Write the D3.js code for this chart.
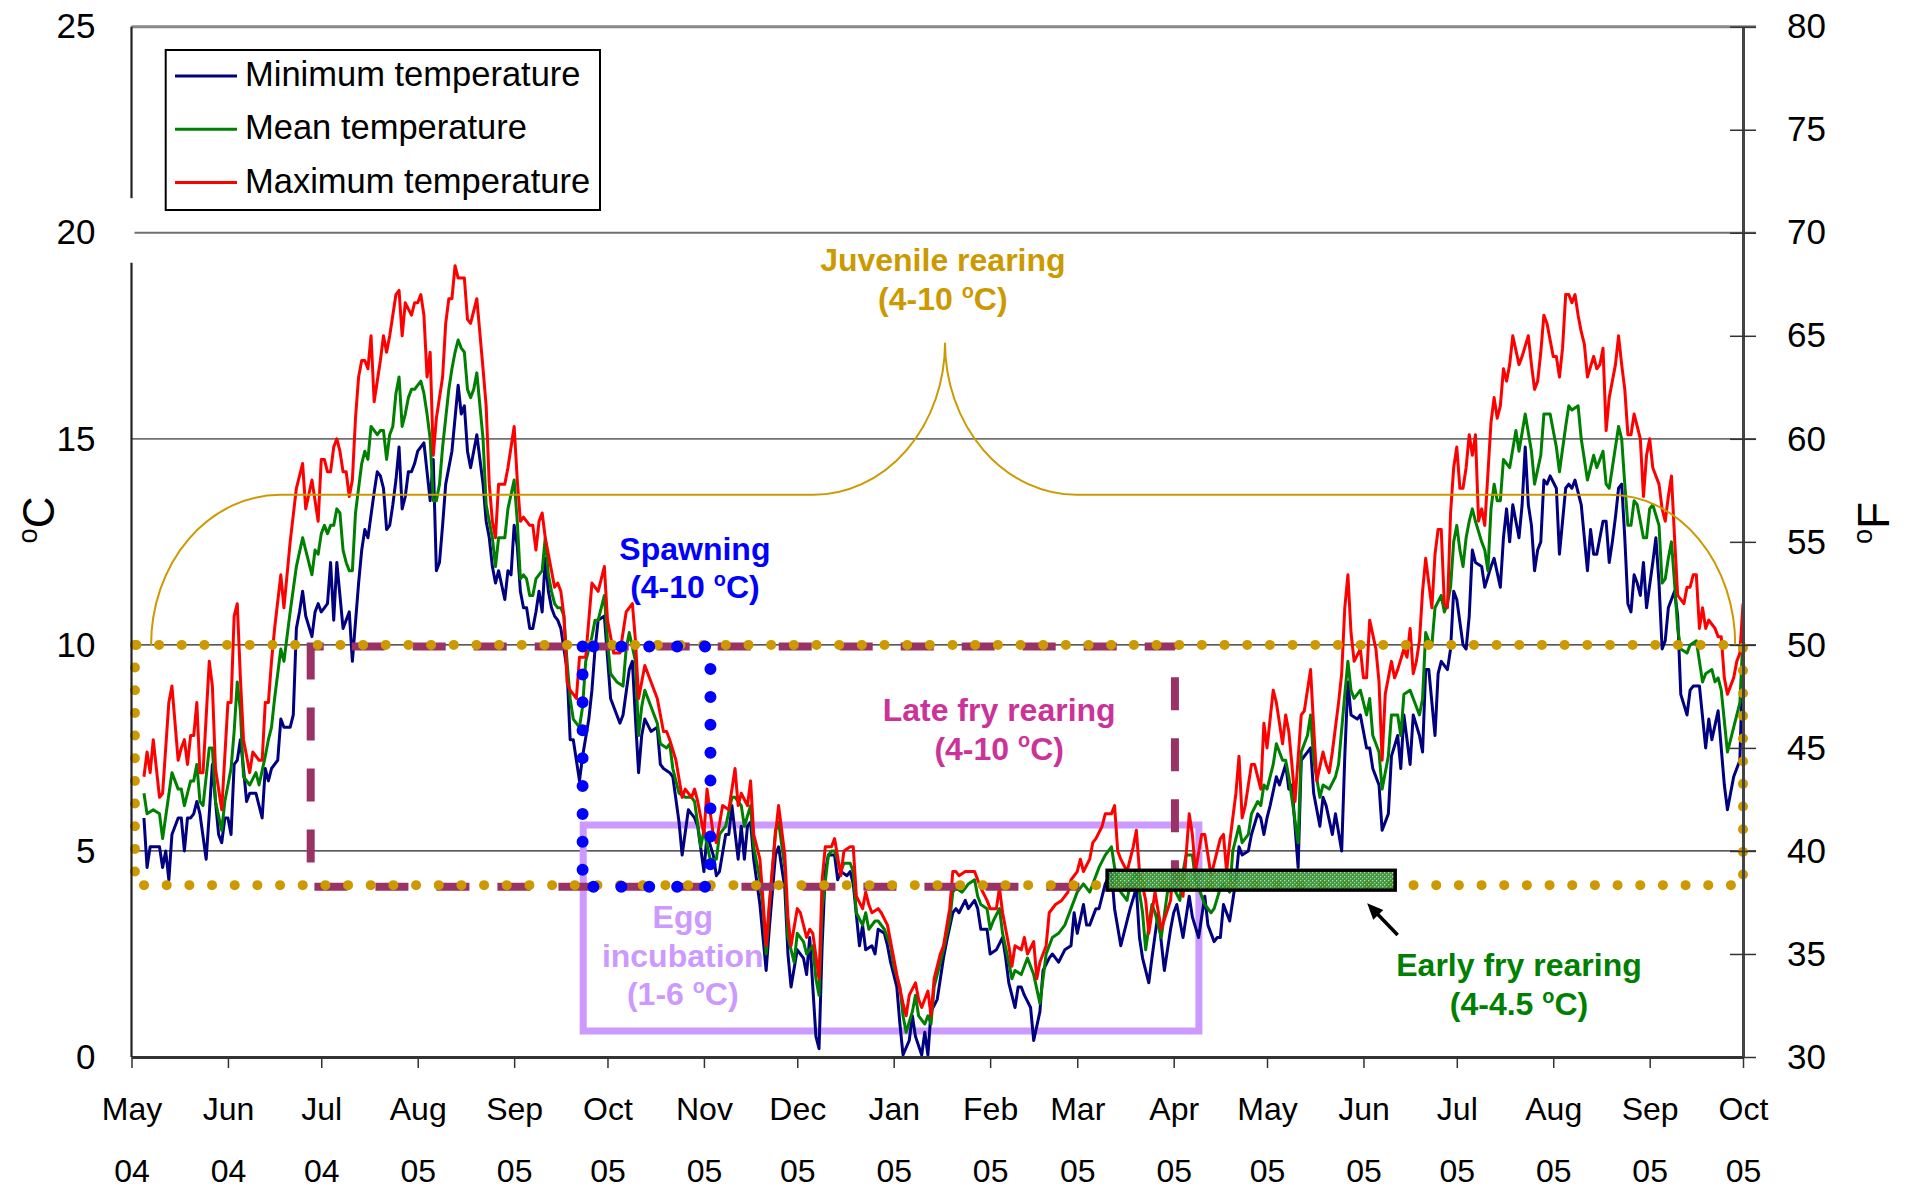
<!DOCTYPE html>
<html>
<head>
<meta charset="utf-8">
<script src="https://cdn.jsdelivr.net/npm/d3@7"></script>
<style>
  body { margin: 0; background: #fff; }
  text { font-family: "Liberation Sans", Arial, sans-serif; }
</style>
</head>
<body>
<script>
var width = 1910, height = 1188;
var plot = { left: 131.5, right: 1743, top: 26.7, bottom: 1057 };

// daily temperatures, days counted from 1 May 2004
var startDate = new Date(2004, 4, 1);
var endDate = new Date(2005, 9, 1);

var maxDays = [4,5,6,7,9,10,12,13,15,16,17,18,19,20,21,22,23,25,26,27,29,31,32,33,34,35,36,38,39,41,42,43,44,45,46,48,49,51,53,55,56,58,60,61,62,63,64,65,66,67,68,69,70,71,72,73,74,75,76,77,78,80,81,82,83,85,86,87,88,90,91,92,93,94,95,96,97,98,100,101,102,103,104,105,106,107,108,109,111,113,114,115,116,117,118,120,121,123,124,125,126,128,129,130,131,132,133,134,136,137,138,139,140,141,143,144,146,148,150,152,153,155,157,159,161,162,163,164,165,168,169,171,172,173,175,177,178,180,181,182,184,185,187,188,190,192,194,195,196,198,199,200,202,203,204,205,207,208,210,211,212,214,215,217,218,219,221,222,223,225,226,228,229,231,232,233,235,236,237,238,240,241,243,244,246,248,249,250,252,253,254,256,257,258,260,261,263,264,265,266,268,269,271,272,273,275,276,278,279,280,282,283,284,286,287,288,290,291,292,294,295,297,299,301,302,304,305,306,308,309,310,312,313,315,316,317,318,320,322,323,324,326,327,329,331,334,335,336,338,340,341,342,344,345,347,348,350,351,352,353,355,356,357,358,360,361,363,364,365,367,368,370,371,372,373,374,376,377,379,380,381,383,384,385,386,388,389,390,391,392,393,395,396,397,398,400,401,402,403,405,406,407,409,410,411,412,413,414,415,416,418,419,420,421,422,423,424,425,426,427,428,429,430,431,432,433,434,435,437,438,439,440,441,442,443,444,446,447,449,450,451,452,453,454,455,457,458,459,460,461,462,463,464,465,466,467,468,470,471,472,473,474,475,476,477,478,479,480,481,482,483,484,485,486,487,488,489,490,491,492,493,494,495,496,497,499,500,501,502,503,504,505,506,507,508,509,510,511,512,513,515,516,517,518];
var maxTemps = [6.8,7.4,6.9,7.7,6.3,6.4,8.6,9.0,7.2,7.5,7.7,7.1,7.8,7.8,8.6,6.9,6.9,9.6,9.0,7.0,6.0,8.6,8.6,10.7,11.0,9.2,7.7,6.9,7.4,7.2,7.2,8.6,8.6,9.6,10.4,11.7,10.9,12.5,13.8,14.4,13.3,14.0,13.0,14.5,14.5,14.2,14.2,14.8,15.0,14.7,14.2,14.2,13.6,14.0,15.5,16.5,16.9,16.9,16.7,17.5,15.9,16.9,17.5,17.1,17.5,18.5,18.6,17.5,18.3,18.0,18.3,18.3,18.5,18.0,16.5,17.1,14.6,15.5,16.5,17.8,18.4,18.4,19.2,18.9,18.9,18.9,17.9,17.8,18.4,16.7,15.8,13.9,13.0,12.6,13.9,13.9,14.3,15.3,14.0,13.0,13.1,12.9,12.9,12.3,13.0,13.2,12.6,12.2,11.4,11.5,11.3,10.7,9.1,8.9,8.7,9.7,9.7,11.5,11.3,11.9,10.6,9.8,9.8,10.8,11.0,10.1,8.7,9.1,9.5,8.9,8.7,7.9,7.9,7.7,7.2,6.3,6.5,6.3,6.5,6.2,5.4,6.5,5.4,5.2,6.1,6.0,7.0,6.1,6.4,6.1,6.7,5.4,4.8,3.8,2.7,3.7,5.4,6.1,4.9,3.4,2.7,3.6,3.5,2.9,3.1,3.0,1.9,4.3,5.1,5.1,5.3,4.4,5.0,5.1,5.1,3.9,3.6,4.0,3.7,3.5,3.6,3.5,3.2,2.8,2.0,1.3,1.0,1.5,1.8,1.4,1.2,1.6,1.0,1.9,2.5,2.7,3.6,4.5,4.5,4.4,4.5,4.5,4.5,4.3,4.1,3.8,3.6,3.6,4.1,3.5,2.7,2.2,2.7,2.6,2.9,2.5,2.8,1.9,2.3,2.7,3.5,3.7,3.8,4.0,4.3,4.5,4.8,4.5,4.8,5.2,5.3,5.6,5.9,5.9,6.1,5.0,4.8,4.5,5.1,5.5,4.5,3.8,3.0,4.0,3.1,3.8,4.7,4.7,3.9,5.9,5.4,4.5,5.4,5.4,4.4,4.7,5.3,5.4,4.5,5.2,6.4,7.3,5.8,6.1,7.1,7.1,6.5,8.1,7.5,8.9,8.6,7.6,8.3,7.9,7.1,6.2,8.3,8.4,9.4,8.0,6.7,7.4,7.1,6.9,7.4,8.6,9.3,10.9,11.7,10.3,9.6,9.9,9.2,9.2,10.6,9.9,9.1,7.2,8.8,9.6,9.2,9.4,9.9,9.7,10.4,9.3,9.6,10.1,11.3,12.1,10.9,12.2,12.8,12.8,11.0,10.9,13.2,14.3,14.8,13.8,13.8,14.3,15.1,14.6,15.1,13.0,13.3,12.9,15.4,16.0,15.5,15.8,16.7,16.4,16.8,17.5,16.8,17.0,17.5,16.8,16.2,16.4,17.1,18.0,17.8,17.0,17.0,16.5,17.2,18.5,18.5,18.3,18.5,18.0,17.6,17.3,16.5,17.0,16.7,16.8,17.2,15.2,16.0,16.4,16.8,17.5,16.8,16.2,15.1,15.1,15.6,15.3,15.0,13.6,14.6,15.0,14.3,14.1,13.9,13.3,13.0,13.6,14.1,12.6,11.2,11.0,11.4,11.4,11.7,11.7,10.4,10.9,10.4,10.6,10.5,10.4,10.2,10.2,9.2,8.8,9.2,9.6,9.8,11.0];

var meanDays = [4,5,7,9,10,13,15,16,17,18,19,20,21,22,23,25,26,27,29,30,32,33,34,35,36,38,40,41,43,44,45,46,48,49,51,53,55,56,58,59,60,61,62,63,64,65,66,67,68,69,70,71,72,74,75,76,77,79,80,81,82,83,84,85,86,87,88,89,90,91,93,94,95,96,97,98,99,100,102,103,104,105,106,107,108,109,110,111,113,114,115,116,117,118,120,121,123,124,125,126,127,128,129,130,132,133,134,135,136,137,138,139,140,141,142,144,145,146,148,149,150,152,153,154,156,158,159,160,162,163,164,165,167,169,170,172,173,174,176,178,180,181,183,184,186,188,189,191,193,194,196,197,199,200,202,203,204,205,207,208,210,211,213,214,216,217,219,220,221,222,224,225,226,228,229,231,232,233,235,236,237,239,240,242,244,245,247,248,249,251,252,253,255,256,257,258,260,261,263,264,265,267,268,269,271,272,273,275,276,277,279,280,282,283,284,286,287,288,290,292,293,294,296,298,300,302,303,304,306,308,309,311,313,315,316,318,320,321,323,325,326,328,329,331,333,335,337,338,339,341,342,344,345,347,348,350,351,353,354,356,357,359,360,362,363,364,365,367,368,370,371,372,375,376,378,379,380,382,383,385,387,388,390,391,392,393,395,397,398,399,401,402,404,405,407,408,409,411,412,414,415,416,417,418,419,421,422,423,424,425,426,427,428,429,430,431,432,434,435,436,437,438,439,440,441,442,443,445,446,448,450,451,453,454,455,456,458,459,461,462,463,465,466,468,469,470,471,473,474,475,476,477,478,479,480,481,482,483,484,486,487,488,489,491,492,493,494,495,496,497,498,500,501,503,504,505,506,508,509,510,511,513,515,517,518];
var meanTemps = [6.4,5.9,6.0,5.9,5.3,6.9,6.5,6.5,6.1,6.4,6.7,6.7,7.1,6.2,6.1,7.5,7.5,6.2,5.5,6.2,7.0,7.9,9.1,8.4,6.8,6.6,6.9,6.6,7.3,7.7,8.0,8.7,9.9,9.6,10.8,11.9,12.6,12.3,11.7,12.3,12.2,12.7,12.9,12.7,12.9,12.9,13.3,13.2,12.3,12.0,11.8,11.8,13.2,14.4,14.7,14.5,15.3,15.1,15.2,15.2,14.5,15.1,15.3,16.1,16.5,15.3,15.6,16.0,16.2,16.2,16.4,16.1,15.6,15.0,13.5,13.5,13.9,14.8,16.2,16.7,17.1,17.4,17.2,17.1,16.2,16.0,16.2,16.6,15.0,13.4,13.0,12.6,11.9,12.6,12.6,13.3,14.0,13.0,11.6,11.7,11.6,11.2,11.2,11.6,11.8,12.6,11.7,11.3,11.0,10.9,10.9,10.7,9.6,8.7,8.2,8.0,8.5,9.6,10.2,10.6,10.6,11.2,10.1,9.3,9.1,9.0,9.9,10.3,9.6,7.8,8.5,8.9,8.5,8.1,7.6,7.5,7.6,7.0,6.4,6.3,6.3,6.2,5.1,5.5,4.8,4.8,5.4,5.6,6.3,6.3,6.1,5.6,6.1,5.1,4.3,3.6,2.5,3.6,5.5,5.7,4.6,2.9,2.3,3.0,2.8,2.5,2.7,1.9,1.5,3.6,4.9,5.0,5.0,4.5,4.7,4.7,4.5,3.5,3.2,3.5,3.1,3.3,3.3,3.1,2.7,2.2,1.7,1.0,0.6,1.1,1.5,1.0,0.8,1.0,0.8,1.7,2.3,2.6,3.3,4.0,4.1,4.0,4.1,4.2,4.3,3.9,3.7,3.6,3.1,3.3,3.6,3.0,2.3,1.9,2.1,2.0,2.2,2.4,2.0,1.3,1.9,2.5,2.9,3.0,3.2,3.6,3.8,4.0,4.2,4.0,4.2,4.6,4.9,5.1,4.6,4.0,3.8,4.2,4.5,3.5,2.6,3.7,3.5,2.9,4.0,4.1,3.8,4.5,4.9,4.9,4.3,3.9,3.7,3.5,3.6,4.1,4.2,4.0,5.0,5.6,5.2,5.4,5.9,6.2,6.1,6.6,6.5,7.1,7.6,7.2,7.2,6.8,5.2,7.4,7.8,8.3,7.2,6.3,6.6,6.5,6.8,7.1,8.8,9.6,8.9,8.7,8.9,8.3,8.7,7.8,7.4,6.5,7.3,8.3,8.3,7.8,8.8,8.9,8.7,8.3,8.7,10.3,10.1,10.0,10.9,11.2,10.8,11.0,11.4,12.5,12.9,12.3,11.9,12.6,13.0,13.3,13.0,12.5,12.3,11.8,13.3,13.9,13.5,13.5,14.5,14.4,14.3,15.2,14.7,15.6,14.7,13.9,14.6,15.6,15.6,15.6,14.8,14.2,15.3,15.8,15.7,15.8,15.0,14.0,14.3,14.6,14.3,14.7,13.9,13.8,14.3,14.8,15.3,15.0,13.9,12.9,12.9,13.5,13.4,12.6,12.6,13.3,13.4,12.9,11.5,11.6,12.1,12.5,11.5,10.4,9.9,9.8,10.0,10.1,9.6,9.1,9.3,9.4,9.1,9.2,8.9,7.4,8.0,8.6,10.2];

var minDays = [4,5,6,9,10,11,12,13,15,16,17,18,19,20,21,22,24,25,26,27,28,29,30,31,32,33,34,35,36,37,38,39,40,41,42,43,44,45,47,48,49,51,52,53,54,55,56,58,59,60,61,62,63,64,65,66,67,68,69,70,71,73,74,75,76,78,79,80,81,82,83,84,85,86,87,88,89,90,91,92,94,95,96,97,98,99,100,101,103,104,105,106,107,108,109,110,111,113,114,115,116,117,118,120,121,122,123,124,125,126,127,128,129,130,131,132,133,134,135,136,137,138,140,141,142,144,145,147,148,149,150,152,153,154,156,157,158,160,161,162,163,164,165,167,169,170,171,173,174,176,177,179,180,181,182,184,185,187,188,189,191,192,193,195,196,197,198,199,200,202,203,204,205,207,208,210,211,212,214,216,217,218,220,221,222,223,224,226,227,228,230,231,232,234,235,236,238,239,240,242,243,244,246,247,248,250,251,252,254,255,256,257,259,260,261,262,264,265,266,268,269,271,272,273,275,276,278,280,281,282,284,285,286,287,289,290,292,293,295,296,298,300,302,303,304,306,307,308,310,311,313,315,316,318,320,321,323,324,325,327,328,330,332,334,335,336,338,340,341,343,345,346,348,349,350,351,353,355,356,357,359,360,362,363,364,365,366,368,369,371,372,373,375,376,378,379,380,382,383,384,386,387,389,390,391,392,394,395,397,398,399,401,402,404,405,407,408,409,411,412,414,415,416,417,419,420,421,423,424,425,426,428,429,430,431,432,434,435,437,438,440,441,442,443,444,446,447,448,449,450,451,452,453,454,455,456,458,459,460,461,462,463,464,466,467,468,469,470,471,473,474,475,476,477,478,479,480,481,482,483,484,485,486,487,489,490,491,492,493,494,496,497,498,500,501,502,504,506,507,508,510,512,513,515,517,518];
var minTemps = [5.8,4.6,5.1,5.1,4.6,5.0,4.3,5.4,5.8,5.8,5.0,5.8,5.8,5.9,6.2,5.9,4.8,5.9,7.1,6.2,5.4,5.2,5.8,5.8,5.4,7.1,7.2,7.7,7.0,6.2,6.4,6.4,6.4,6.1,5.8,7.0,6.7,7.0,7.2,8.2,8.0,8.0,8.3,10.4,10.8,11.3,10.7,10.2,10.8,11.0,10.8,10.9,11.0,12.0,10.6,12.0,11.2,10.4,10.6,10.8,9.6,11.5,12.3,12.8,12.6,13.7,14.2,14.1,13.8,12.8,12.9,13.4,14.0,14.8,13.3,13.6,14.2,14.2,14.4,14.7,14.9,14.2,13.5,14.5,11.8,12.0,12.9,13.9,14.7,15.5,16.3,15.6,15.8,14.7,14.3,14.7,15.1,13.9,13.0,12.6,11.9,11.5,11.8,11.1,11.8,11.7,12.9,12.4,11.3,10.9,10.9,10.4,10.4,10.8,11.3,10.8,12.1,11.3,10.9,10.7,10.6,10.4,9.4,7.7,7.7,6.7,7.3,8.2,8.9,9.9,10.6,10.7,9.7,8.7,8.3,8.1,8.3,9.4,9.6,8.2,6.9,7.8,8.2,7.9,8.0,7.1,7.0,6.9,6.8,5.7,4.9,6.0,5.9,5.8,5.6,4.5,5.4,4.9,4.4,4.5,5.4,5.4,6.1,4.8,5.6,4.8,5.6,5.7,4.8,3.7,2.9,2.1,3.1,4.9,5.1,4.1,2.5,1.7,2.6,2.4,2.0,2.9,0.5,0.2,2.7,4.5,4.9,4.9,4.3,4.5,4.4,4.5,4.2,2.7,3.2,2.6,2.7,2.5,3.1,3.0,2.7,2.3,1.7,0.8,0.05,0.4,1.0,0.5,0.05,0.6,0.05,1.1,1.4,1.9,2.4,2.8,3.5,3.6,3.5,3.8,3.6,3.8,3.6,3.1,3.1,2.5,2.6,2.9,2.4,1.8,1.2,1.7,1.7,1.5,1.2,0.4,1.1,2.1,2.4,2.5,2.3,2.6,2.7,3.5,3.0,3.7,3.2,3.2,3.6,3.6,4.2,4.5,3.6,2.7,3.3,3.6,4.1,2.9,2.4,1.8,2.4,3.5,2.1,3.1,3.5,3.7,2.9,3.9,3.4,2.9,3.9,3.2,2.8,2.9,2.9,3.7,3.3,4.3,5.1,4.9,5.0,5.4,5.9,5.8,5.4,5.8,6.1,6.8,6.6,7.1,6.5,6.6,4.6,7.2,7.4,7.5,6.4,5.6,6.3,6.1,5.4,5.9,5.0,7.3,9.1,8.3,8.2,8.3,7.5,7.5,7.0,6.6,5.5,5.9,7.3,7.8,7.0,8.3,7.1,8.3,7.8,7.4,9.4,9.4,7.8,9.3,9.6,9.4,9.9,11.3,11.1,10.0,9.9,10.7,12.3,12.0,11.9,11.4,11.9,12.1,11.4,12.6,13.3,12.5,13.4,12.6,13.4,14.8,13.4,12.9,11.8,12.3,12.5,14.0,13.9,14.1,13.8,12.2,13.0,13.8,13.9,13.8,14.0,13.4,12.6,11.8,12.8,12.2,12.2,13.0,13.0,12.0,12.5,13.1,13.8,13.9,12.6,11.0,10.8,11.7,11.5,11.2,12.0,10.9,12.0,12.6,11.5,9.9,10.1,10.9,11.3,10.7,8.8,8.3,8.9,9.0,9.0,7.5,8.2,7.7,8.4,6.6,6.0,6.8,7.2,9.9];

var seriesNames = ["Minimum temperature", "Mean temperature", "Maximum temperature"];
var seriesColors = ["#000080", "#008000", "#ff0000"];

// axis labels
var monthLabels = ["May","Jun","Jul","Aug","Sep","Oct","Nov","Dec","Jan","Feb","Mar","Apr","May","Jun","Jul","Aug","Sep","Oct"];
var yearLabels = ["04","04","04","05","05","05","05","05","05","05","05","05","05","05","05","05","05","05"];
var celsiusTicks = [0, 5, 10, 15, 20, 25];
var fahrenheitTicks = [30, 35, 40, 45, 50, 55, 60, 65, 70, 75, 80];

// habitat ranges (day offsets and degrees C as drawn)
var juvenile = { from: 1.1, to: 518, low: 4.17, high: 10 };
var lateFry = { from: 57.6, to: 335.4, low: 4.13, high: 9.96 };
var spawning = { from: 145, to: 186.1, low: 4.13, high: 9.96 };
var eggIncubation = { from: 145.2, to: 343.1, low: 0.63, high: 5.63 };
var earlyFry = { from: 313.6, to: 406.2, low: 4.05, high: 4.53 };
var brace = { start: 6.3, riseEnd: 47.8, peakStart: 219.1, peak: 261.5, peakEnd: 303.9, fallStart: 475.3, end: 515.5, base: 10, level: 13.64, top: 17.33 };
var arrowFrom = { day: 407.0, t: 2.96 }, arrowTo = { day: 397.2, t: 3.73 };

var labels = [
  { lines: ["Juvenile rearing", "(4-10 °C)"], day: 260.8, t: 19.06, color: "#cc9900" },
  { lines: ["Spawning", "(4-10 °C)"], day: 181.1, t: 12.06, color: "#0000ff" },
  { lines: ["Late fry rearing", "(4-10 °C)"], day: 278.9, t: 8.15, color: "#cc3399" },
  { lines: ["Egg", "incubation", "(1-6 °C)"], day: 177.2, t: 3.12, color: "#cc99ff" },
  { lines: ["Early fry rearing", "(4-4.5 °C)"], day: 446, t: 1.96, color: "#008000" }
];

var svg = d3.select("body").append("svg")
    .attr("width", width)
    .attr("height", height);
svg.append("rect").attr("width", width).attr("height", height).attr("fill", "#fff");

var x = d3.scaleTime().domain([startDate, endDate]).range([plot.left, plot.right]);
var y = d3.scaleLinear().domain([0, 25]).range([plot.bottom, plot.top]);
var yF = d3.scaleLinear().domain([30, 80]).range([plot.bottom, plot.top]);
function dx(day) { return x(startDate) + (x(endDate) - x(startDate)) * day / d3.timeDay.count(startDate, endDate); }

// superscript "o" wherever the text has a degree sign
function richText(sel, str, fs) {
  var parts = str.split("°");
  sel.append("tspan").text(parts[0]);
  if (parts.length > 1) {
    sel.append("tspan").attr("font-size", fs * 0.62).attr("dy", -fs * 0.38).text("o");
    sel.append("tspan").attr("dy", fs * 0.38).text(parts[1]);
  }
}

// gridlines
svg.selectAll(".grid")
    .data([5, 10, 15, 20])
    .enter().append("line")
    .attr("x1", function (d) { return d == 20 ? plot.left + 3 : plot.left; })
    .attr("x2", plot.right + 13)
    .attr("y1", function (d) { return y(d); })
    .attr("y2", function (d) { return y(d); })
    .attr("stroke", function (d) { return d > 10 ? "#707070" : "#222"; })
    .attr("stroke-width", function (d) { return d > 10 ? 1.8 : 1.2; });
svg.append("line")
    .attr("x1", plot.left).attr("x2", plot.right + 13)
    .attr("y1", y(25)).attr("y2", y(25))
    .attr("stroke", "#888").attr("stroke-width", 3);

function boxPath(b) {
  var x0 = dx(b.from), x1 = dx(b.to), y0 = y(b.high), y1 = y(b.low);
  return "M" + x0 + "," + y0 + "L" + x0 + "," + y1 + "L" + x1 + "," + y1 + "L" + x1 + "," + y0 + "Z";
}

// egg incubation box sits under the lines
svg.append("path")
    .attr("d", boxPath(eggIncubation))
    .attr("fill", "none")
    .attr("stroke", "#cc99ff")
    .attr("stroke-width", 7);

// temperature lines
var line = d3.line()
    .x(function (d) { return dx(d[0]); })
    .y(function (d) { return y(d[1]); });
var series = [d3.zip(minDays, minTemps), d3.zip(meanDays, meanTemps), d3.zip(maxDays, maxTemps)];
svg.selectAll(".series")
    .data(series)
    .enter().append("path")
    .attr("class", "series")
    .attr("d", line)
    .attr("fill", "none")
    .attr("stroke", function (d, i) { return seriesColors[i]; })
    .attr("stroke-width", 3)
    .attr("stroke-linejoin", "round");

// late fry rearing (dashed)
svg.append("path")
    .attr("d", boxPath(lateFry))
    .attr("fill", "none")
    .attr("stroke", "#993366")
    .attr("stroke-width", 8)
    .attr("stroke-dasharray", "33 28");

// juvenile rearing (gold dots)
svg.append("path")
    .attr("d", boxPath(juvenile))
    .attr("fill", "none")
    .attr("stroke", "#cc9900")
    .attr("stroke-width", 10)
    .attr("stroke-linecap", "round")
    .attr("stroke-dasharray", "0 22.67");

// spawning (blue dots)
svg.append("path")
    .attr("d", boxPath(spawning))
    .attr("fill", "none")
    .attr("stroke", "#0000ff")
    .attr("stroke-width", 12)
    .attr("stroke-linecap", "round")
    .attr("stroke-dasharray", "0 27.9");

// early fry bar with a speckled green fill
var defs = svg.append("defs");
var pat = defs.append("pattern")
    .attr("id", "speckle")
    .attr("width", 4).attr("height", 4)
    .attr("patternUnits", "userSpaceOnUse");
pat.append("rect").attr("width", 4).attr("height", 4).attr("fill", "#2e8b2e");
pat.append("rect").attr("width", 1.3).attr("height", 1.3).attr("fill", "#b5e0b0");
pat.append("rect").attr("x", 2).attr("y", 2).attr("width", 1.3).attr("height", 1.3).attr("fill", "#8fcf8a");
svg.append("rect")
    .attr("x", dx(earlyFry.from))
    .attr("y", y(earlyFry.high))
    .attr("width", dx(earlyFry.to) - dx(earlyFry.from))
    .attr("height", y(earlyFry.low) - y(earlyFry.high))
    .attr("fill", "url(#speckle)")
    .attr("fill-opacity", 0.9)
    .attr("stroke", "#000")
    .attr("stroke-width", 3.5);

// arrow pointing at the bar
var ax0 = dx(arrowFrom.day), ay0 = y(arrowFrom.t), ax1 = dx(arrowTo.day), ay1 = y(arrowTo.t);
var alen = Math.hypot(ax1 - ax0, ay1 - ay0), ux = (ax1 - ax0) / alen, uy = (ay1 - ay0) / alen;
svg.append("line")
    .attr("x1", ax0).attr("y1", ay0)
    .attr("x2", ax1 - ux * 12).attr("y2", ay1 - uy * 12)
    .attr("stroke", "#000").attr("stroke-width", 3.5);
svg.append("path")
    .attr("d", "M" + ax1 + "," + ay1 +
        "L" + (ax1 - ux * 16 - uy * 7) + "," + (ay1 - uy * 16 + ux * 7) +
        "L" + (ax1 - ux * 16 + uy * 7) + "," + (ay1 - uy * 16 - ux * 7) + "Z")
    .attr("fill", "#000");

// juvenile brace
var bBase = y(brace.base), bLevel = y(brace.level), bTop = y(brace.top);
var r1 = dx(brace.riseEnd) - dx(brace.start), r2 = dx(brace.peak) - dx(brace.peakStart), r3 = dx(brace.end) - dx(brace.fallStart);
svg.append("path")
    .attr("d", "M" + dx(brace.start) + "," + bBase +
        "A" + r1 + "," + (bBase - bLevel) + " 0 0 1 " + dx(brace.riseEnd) + "," + bLevel +
        "L" + dx(brace.peakStart) + "," + bLevel +
        "A" + r2 + "," + (bLevel - bTop) + " 0 0 0 " + dx(brace.peak) + "," + bTop +
        "A" + r2 + "," + (bLevel - bTop) + " 0 0 0 " + dx(brace.peakEnd) + "," + bLevel +
        "L" + dx(brace.fallStart) + "," + bLevel +
        "A" + r3 + "," + (bBase - bLevel) + " 0 0 1 " + dx(brace.end) + "," + bBase)
    .attr("fill", "none")
    .attr("stroke", "#cc9900")
    .attr("stroke-width", 2);

// annotation labels
var labelSize = 32;
labels.forEach(function (lab) {
  lab.lines.forEach(function (str, i) {
    var t = svg.append("text")
        .attr("x", dx(lab.day))
        .attr("y", y(lab.t) + i * 38.5)
        .attr("text-anchor", "middle")
        .attr("font-size", labelSize)
        .attr("font-weight", "bold")
        .attr("fill", lab.color);
    richText(t, str, labelSize);
  });
});

// bottom axis: month and year rows
var monthTicks = d3.timeMonth.range(startDate, d3.timeDay.offset(endDate, 1));
var xAxis = d3.axisBottom(x)
    .tickValues(monthTicks)
    .tickSize(11)
    .tickSizeOuter(0)
    .tickPadding(29)
    .tickFormat(function (d, i) { return monthLabels[i]; });
var gx = svg.append("g")
    .attr("transform", "translate(0," + plot.bottom + ")")
    .call(xAxis);
gx.select(".domain").attr("stroke", "#333").attr("stroke-width", 3);
gx.selectAll(".tick line").attr("stroke", "#333").attr("stroke-width", 1.5);
gx.selectAll(".tick text").attr("font-size", 32).attr("font-family", "Liberation Sans, Arial").attr("fill", "#000");
gx.selectAll(".tick").append("text")
    .attr("y", 102)
    .attr("dy", "0.71em")
    .attr("fill", "#000")
    .attr("font-size", 32)
    .attr("font-family", "Liberation Sans, Arial")
    .text(function (d, i) { return yearLabels[i]; });

// left axis (line has a small break near 20, as in the original)
var yAxis = d3.axisLeft(y).tickValues(celsiusTicks).tickSize(0).tickPadding(36);
var gy = svg.append("g")
    .attr("transform", "translate(" + plot.left + ",0)")
    .call(yAxis);
gy.select(".domain").remove();
gy.selectAll(".tick text").attr("font-size", 35).attr("font-family", "Liberation Sans, Arial").attr("fill", "#000");
[[25, 20.84], [19.27, 0]].forEach(function (seg) {
  svg.append("line")
      .attr("x1", plot.left).attr("x2", plot.left)
      .attr("y1", y(seg[0])).attr("y2", y(seg[1]))
      .attr("stroke", "#222").attr("stroke-width", 2.2);
});

// right axis in Fahrenheit with crossing ticks
var yAxisF = d3.axisRight(yF).tickValues(fahrenheitTicks).tickSize(13).tickPadding(31).tickSizeOuter(0);
var gyF = svg.append("g")
    .attr("transform", "translate(" + plot.right + ",0)")
    .call(yAxisF);
gyF.select(".domain").attr("stroke", "#444").attr("stroke-width", 3);
gyF.selectAll(".tick line").attr("x1", -13).attr("stroke", "#333").attr("stroke-width", 1.5);
gyF.selectAll(".tick text").attr("font-size", 35).attr("font-family", "Liberation Sans, Arial").attr("fill", "#000");

// axis titles
var titleSize = 44;
var tC = svg.append("text")
    .attr("transform", "translate(54,520) rotate(-90)")
    .attr("text-anchor", "middle")
    .attr("font-size", titleSize);
richText(tC, "°C", titleSize);
var tF = svg.append("text")
    .attr("transform", "translate(1889,523) rotate(-90)")
    .attr("text-anchor", "middle")
    .attr("font-size", titleSize);
richText(tF, "°F", titleSize);

// legend
var legend = svg.append("g");
legend.append("rect")
    .attr("x", 165.7).attr("y", 50)
    .attr("width", 434.3).attr("height", 160)
    .attr("fill", "#fff")
    .attr("stroke", "#000")
    .attr("stroke-width", 2);
var items = legend.selectAll(".item")
    .data(seriesNames)
    .enter().append("g")
    .attr("transform", function (d, i) { return "translate(175," + (76 + i * 53.3) + ")"; });
items.append("line")
    .attr("x1", 0).attr("x2", 62)
    .attr("stroke", function (d, i) { return seriesColors[i]; })
    .attr("stroke-width", 3);
items.append("text")
    .attr("x", 70).attr("y", 10)
    .attr("font-size", 34.5)
    .text(function (d) { return d; });
</script>
</body>
</html>
